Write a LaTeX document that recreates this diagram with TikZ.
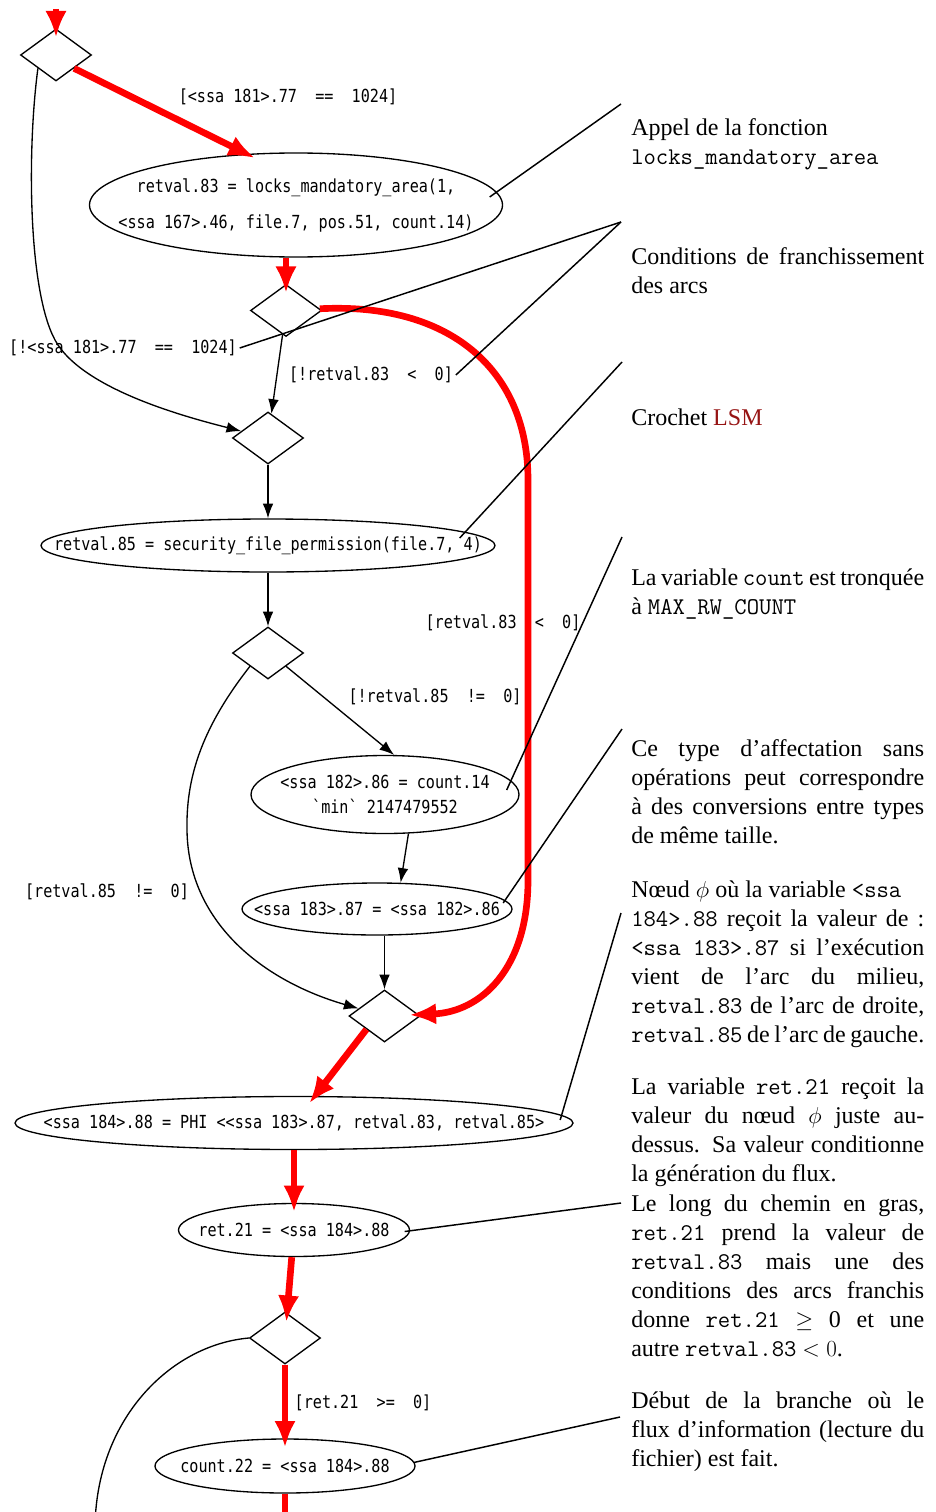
\documentclass[tikz,border=0pt]{standalone}
\usepackage{fontspec}
\setmainfont{Liberation Serif}
\newfontfamily\gvfont{DejaVu Sans Mono}[FakeStretch=0.84]
\usepackage{tikz}
\usetikzlibrary{shapes.geometric, arrows.meta, calc}
\definecolor{lsmred}{RGB}{150,20,20}
\newcommand{\gvsize}{\gvfont\fontsize{13.5}{18.75}\selectfont}
\newcommand{\annsize}{\fontsize{18}{21.75}\selectfont\hyphenpenalty=10000\relax}
\newcommand{\gvtext}[1]{\makebox[0pt]{#1}}

\begin{document}
\begin{tikzpicture}[x=0.75pt, y=-0.75pt,
    gvnode/.style={draw, line width=1pt, inner sep=0pt, align=center, font=\gvsize},
    stmt/.style={gvnode, ellipse},
    cond/.style={gvnode, diamond, minimum width=53.25pt, minimum height=39pt},
    guard/.style={font=\gvsize, inner sep=2pt},
    link/.style={line width=1pt, -{Latex[length=11pt, width=8pt]}},
    hotlink/.style={red, line width=5pt, -{Latex[length=20pt, width=16pt]}, shorten >=-7pt},
    noteline/.style={line width=1.1pt},
    ann/.style={anchor=base west, text width=219.75pt, align=justify, inner sep=0pt, font=\annsize}]
\useasboundingbox (0,0) rectangle (935,1512);

\node[cond] (d1) at (56,55) {};
\node[stmt, minimum width=309.75pt, minimum height=78pt] (e1) at (296,205)
    {\gvtext{retval.83 = locks\_mandatory\_area(1,}\\[8.25pt]\gvtext{<ssa 167>.46, file.7, pos.51, count.14)}};
\node[cond] (d2) at (286,310.5) {};
\node[cond] (d3) at (268,438) {};
\node[stmt, minimum width=340.5pt, minimum height=39.75pt] (e2) at (268,545.5)
    {\gvtext{retval.85 = security\_file\_permission(file.7, 4)}};
\node[cond] (d5) at (268,653) {};
\node[stmt, minimum width=201pt, minimum height=58.5pt] (e3) at (385,794.5)
    {\gvtext{<ssa 182>.86 = count.14}\\\gvtext{`min` 2147479552}};
\node[stmt, minimum width=202.5pt, minimum height=39pt] (e4) at (377,909)
    {\gvtext{<ssa 183>.87 = <ssa 182>.86}};
\node[cond] (d4) at (384.5,1016) {};
\node[stmt, minimum width=418.5pt, minimum height=39.75pt] (e5) at (294,1123)
    {\gvtext{<ssa 184>.88 = PHI <<ssa 183>.87, retval.83, retval.85>}};
\node[stmt, minimum width=173.25pt, minimum height=39.75pt] (e6) at (294,1230)
    {\gvtext{ret.21 = <ssa 184>.88}};
\node[cond] (d6) at (285,1338) {};
\node[stmt, minimum width=195pt, minimum height=40.5pt] (e7) at (285,1466)
    {\gvtext{count.22 = <ssa 184>.88}};

\node[guard] (c1) at (288,97) {[<ssa 181>.77~~==~~1024]};
\node[guard] (c2) at (123,348) {[!<ssa 181>.77~~==~~1024]};
\node[guard] (c3) at (371,375) {[!retval.83~~<~~0]};
\node[guard] (c4) at (503,623) {[retval.83~~<~~0]};
\node[guard] (c5) at (435,697) {[!retval.85~~!=~~0]};
\node[guard] (c6) at (107,892) {[retval.85~~!=~~0]};
\node[guard] (c7) at (363,1403) {[ret.21~~>=~~0]};

\coordinate (src) at (56,9);
\coordinate (snk) at (285,1530);
\coordinate (snk2) at (95,1530);
\draw[hotlink] (src) -- (d1);
\draw[hotlink] (d1.south east) -- (e1.134);
\draw[hotlink] (e1.south -| d2) -- (d2);
\draw[link] (d1.south west) .. controls (27,150) and (28,290) .. (55,340)
    .. controls (82,390) and (190,418) .. (d3);
\draw[link] (d2) -- (d3);
\draw[hotlink] (d2) .. controls (450,302) and (528,370) .. (528,480) -- (528,880)
    .. controls (528,970) and (480,1012) .. (d4);
\draw[link] (d3) -- (e2);
\draw[link] (e2) -- (d5);
\draw[link] (d5.south east) -- (e3.77);
\draw[link] (d5.south west) .. controls (200,730) and (186,780) .. (187,830)
    .. controls (188,920) and (260,980) .. (d4);
\draw[link] (e3.-59) -- (e4.48);
\draw[link] (e4.south -| d4) -- (d4);
\draw[hotlink] (d4.south west) -- (e5);
\draw[hotlink] (e5) -- (e6);
\draw[hotlink] (e6) -- (d6);
\draw[hotlink] (d6) -- (e7);
\draw[hotlink, -] (e7) -- (snk);
\draw[line width=1pt] (d6.west) .. controls (170,1345) and (95,1420) .. (snk2);

\node[ann] (a1) at (631,136) {Appel de la fonction\\\texttt{locks\_mandatory\_area}};
\node[ann] (a2) at (631,264) {Conditions de franchissement des arcs};
\node[ann] (a3) at (631,425) {Crochet \textcolor{lsmred}{LSM}};
\node[ann] (a4) at (631,585) {La variable \texttt{count} est tronquée à \texttt{MAX\_RW\_COUNT}};
\node[ann] (a5) at (631,756) {Ce type d'affectation sans opérations peut correspondre à des conversions entre types de même taille.};
\node[ann] (a6) at (631,897) {Nœud $\phi$ où la variable \texttt{<ssa}\\\texttt{184>.88} reçoit la valeur de~: \texttt{<ssa 183>.87} si l'exécution vient de l'arc du milieu, \texttt{retval.83} de l'arc de droite, \texttt{retval.85} de l'arc de gauche.};
\node[ann] (a7) at (631,1094) {La variable \texttt{ret.21} reçoit la valeur du nœud $\phi$ juste au-dessus. Sa valeur conditionne la génération du flux.};
\node[ann] (a8) at (631,1211) {Le long du chemin en gras, \texttt{ret.21} prend la valeur de \texttt{retval.83} mais une des conditions des arcs franchis donne \texttt{ret.21} $\geq$ 0 et une autre~\texttt{retval.83}~$<0$.};
\node[ann] (a9) at (631,1408) {Début de la branche où le flux d'information (lecture du fichier) est fait.};

\coordinate (p1) at (621,104);
\coordinate (p2) at (621,222);
\coordinate (p3) at (622,362);
\coordinate (p4) at (622,537);
\coordinate (p5) at (622,729);
\coordinate (p6) at (621,913);
\coordinate (p7) at (621,1203);
\coordinate (p8) at (620,1417);
\draw[noteline] (p1) -- ($(e1.east)+(-13.5,-8)$);
\draw[noteline] (p2) -- (c2.east);
\draw[noteline] (p2) -- (c3.east);
\draw[noteline] (p3) -- ($(e2.east)+(-36,-7.5)$);
\draw[noteline] (p4) -- ($(e3.east)+(-13,-4.5)$);
\draw[noteline] (p5) -- ($(e4.east)+(-9.5,-6)$);
\draw[noteline] (p6) -- ($(e5.east)+(-13.5,-3)$);
\draw[noteline] (p7) -- ($(e6.east)+(-5.5,1.5)$);
\draw[noteline] (p8) -- ($(e7.east)+(-2,-3.5)$);
\end{tikzpicture}
\end{document}
